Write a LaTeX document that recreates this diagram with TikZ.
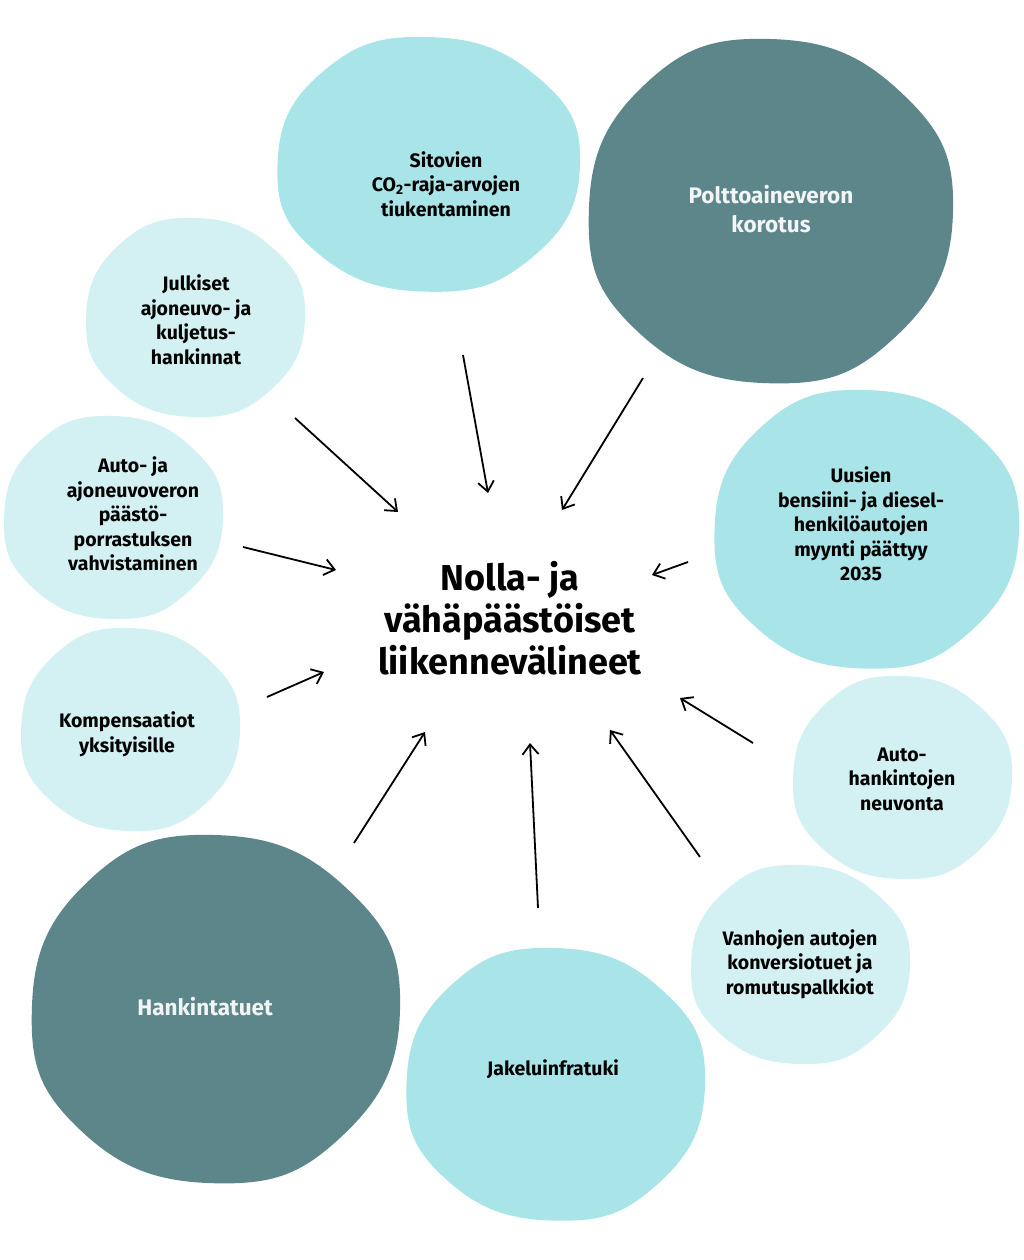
\documentclass[tikz,border=0pt]{standalone}
\usepackage{fontspec}
\setmainfont{Fira Sans}
\usetikzlibrary{arrows.meta,calc}
\definecolor{cmid}{HTML}{A9E5E8}
\definecolor{clight}{HTML}{D3F1F3}
\definecolor{cdark}{HTML}{5D868B}
\tikzset{lbl/.style={align=center,font=\bfseries\fontsize{19.5}{24.5}\selectfont,text=black},
 dlbl/.style={lbl,text=white!92!cdark,font=\bfseries\fontsize{22.5}{29}\selectfont},
 arr/.style={-{Straight Barb[length=10pt,width=16pt]},line width=1.8pt}}
\newcommand{\blob}[4]{\fill[#1] plot[smooth cycle,tension=0.8] coordinates{
 ($(#2)+(0:#3*1.0 and #4*0.98)$)
 ($(#2)+(45:#3*0.97 and #4*1.02)$)
 ($(#2)+(90:#3*1.0 and #4*0.99)$)
 ($(#2)+(135:#3*1.03 and #4*0.97)$)
 ($(#2)+(180:#3*0.99 and #4*1.0)$)
 ($(#2)+(225:#3*0.98 and #4*1.03)$)
 ($(#2)+(270:#3*1.01 and #4*1.0)$)
 ($(#2)+(315:#3*1.02 and #4*0.97)$)};}
\begin{document}
\begin{tikzpicture}[x=1pt,y=-1pt]
\useasboundingbox (0,0) rectangle (1024,1260);
\fill[white] (0,0) rectangle (1024,1260);
\blob{cmid}{428,165}{152}{128}
\blob{cdark}{770,212}{183}{173}
\blob{clight}{195,318}{110}{100}
\blob{clight}{113,518}{110}{102}
\blob{cmid}{866,530}{153}{140}
\blob{clight}{130,730}{110}{102}
\blob{clight}{902,778}{110}{102}
\blob{cdark}{215,1010}{185}{175}
\blob{cmid}{555,1085}{150}{137}
\blob{clight}{800,965}{110}{100}
\node[lbl] (s) at (446,184) {Sitovien\\CO\textsubscript{2}-raja-arvojen\\tiukentaminen};
\node[dlbl] (p) at (771,209) {Polttoaineveron\\korotus};
\node[lbl] (j) at (196,320) {Julkiset\\ajoneuvo- ja\\kuljetus-\\hankinnat};
\node[lbl] (a) at (133,514) {Auto- ja\\ajoneuvoveron\\päästö-\\porrastuksen\\vahvistaminen};
\node[lbl] (u) at (861,524) {Uusien\\bensiini- ja diesel-\\henkilöautojen\\myynti päättyy\\2035};
\node[lbl] (k) at (127,734) {Kompensaatiot\\yksityisille};
\node[lbl] (h) at (902,779) {Auto-\\hankintojen\\neuvonta};
\node[dlbl] (ht) at (205,1007) {Hankintatuet};
\node[lbl] (jk) at (553,1069) {Jakeluinfratuki};
\node[lbl] (v) at (800,964) {Vanhojen autojen\\konversiotuet ja\\romutuspalkkiot};
\node[align=center,font=\bfseries\fontsize{36}{42}\selectfont] (c) at (510,618) {Nolla- ja\\vähäpäästöiset\\liikennevälineet};
\foreach \n/\a/\b/\c/\d in {1/295/418/398/512, 2/463/355/488/493, 3/643/378/562/510, 4/243/547/336/570, 5/688/562/652/575, 6/267/697/324/672, 7/753/743/680/698, 8/354/843/425/732, 9/538/908/530/743, 10/700/857/610/730}{
 \coordinate (f\n) at (\a,\b); \coordinate (t\n) at (\c,\d);
 \draw[arr] (f\n) -- (t\n);}
\end{tikzpicture}
\end{document}
